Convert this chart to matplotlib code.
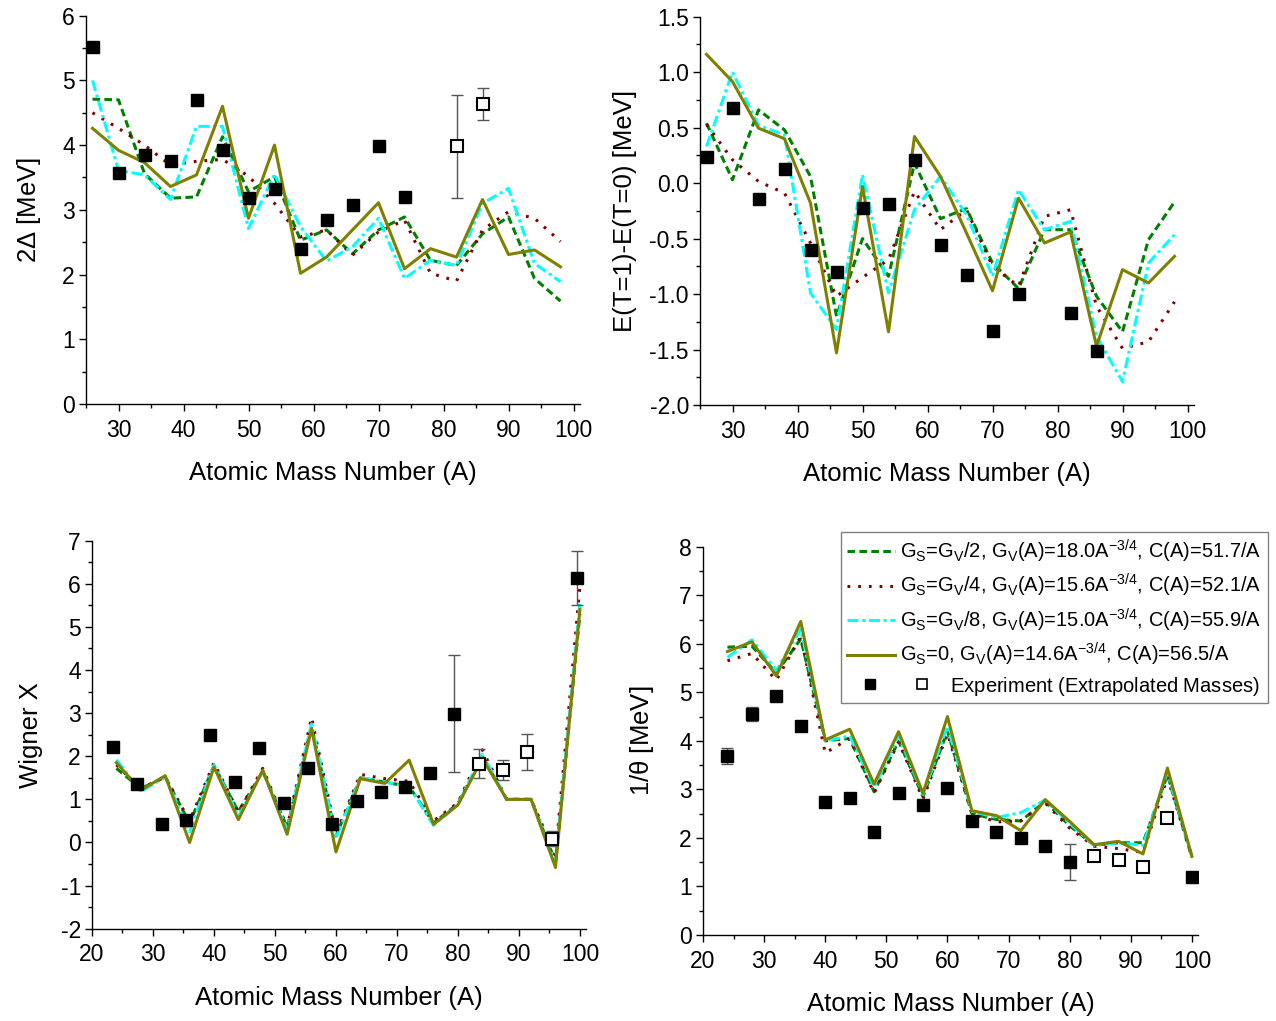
import matplotlib
matplotlib.use("Agg")
import matplotlib.pyplot as plt
import numpy as np
from matplotlib.lines import Line2D
from matplotlib.legend_handler import HandlerBase
from matplotlib.ticker import MultipleLocator, FormatStrFormatter

plt.rcParams['font.family'] = 'Liberation Sans'
plt.rcParams['mathtext.fontset'] = 'custom'
plt.rcParams['mathtext.rm'] = 'Liberation Sans'
plt.rcParams['mathtext.default'] = 'regular'
plt.rcParams['axes.unicode_minus'] = False

# ---- data ----
# top panels: A = 26 ... 98
A_top = np.arange(26, 99, 4)
# bottom panels: A = 24 ... 100
A_bot = np.arange(24, 101, 4)

# 2 Delta [MeV]
gap_half = [4.71, 4.70, 3.56, 3.18, 3.20, 4.13, 3.28, 3.51, 2.53, 2.69, 2.32, 2.69, 2.89, 2.22, 2.14, 2.63, 2.89, 1.94, 1.59]
gap_quarter = [4.50, 4.26, 4.00, 3.69, 3.75, 3.78, 3.52, 3.10, 2.58, 2.69, 2.30, 2.66, 2.84, 2.02, 1.90, 2.69, 2.97, 2.87, 2.51]
gap_eighth = [5.00, 3.61, 3.54, 3.16, 4.29, 4.29, 2.71, 3.55, 2.74, 2.21, 2.43, 2.87, 1.94, 2.22, 2.14, 3.10, 3.33, 2.17, 1.89]
gap_zero = [4.26, 3.92, 3.73, 3.36, 3.54, 4.60, 2.87, 4.00, 2.02, 2.27, 2.69, 3.11, 2.09, 2.40, 2.27, 3.16, 2.31, 2.38, 2.12]
gap_exp_A = [26, 30, 34, 38, 42, 46, 50, 54, 58, 62, 66, 70, 74]
gap_exp = [5.52, 3.57, 3.85, 3.75, 4.70, 3.92, 3.18, 3.32, 2.39, 2.84, 3.08, 3.99, 3.20]
gap_extr_A = [82, 86]
gap_extr = [3.98, 4.64]
gap_extr_err = [0.79, 0.25]

# E(T=1)-E(T=0) [MeV]
et_half = [0.54, 0.03, 0.66, 0.48, 0.06, -1.20, -0.50, -0.84, 0.18, -0.32, -0.23, -0.72, -0.95, -0.42, -0.42, -1.02, -1.34, -0.51, -0.17]
et_quarter = [0.53, 0.21, 0.015, -0.09, -0.54, -1.02, -0.85, -0.69, -0.075, -0.42, -0.24, -0.75, -0.93, -0.30, -0.24, -1.11, -1.49, -1.43, -1.07]
et_eighth = [0.33, 1.00, 0.52, 0.435, -0.99, -1.32, 0.075, -0.99, -0.24, 0.06, -0.285, -0.84, -0.06, -0.42, -0.345, -1.38, -1.79, -0.72, -0.465]
et_zero = [1.16, 0.915, 0.495, 0.40, -0.18, -1.53, -0.03, -1.34, 0.42, 0.06, -0.45, -0.97, -0.135, -0.54, -0.44, -1.47, -0.78, -0.90, -0.66]
et_exp_A = [26, 30, 34, 38, 42, 46, 50, 54, 58, 62, 66, 70, 74, 82, 86]
et_exp = [0.237, 0.68, -0.14, 0.13, -0.60, -0.80, -0.22, -0.19, 0.21, -0.56, -0.83, -1.33, -1.00, -1.17, -1.51]

# Wigner X
wx_half = [1.72, 1.25, 1.52, 0.45, 1.78, 0.72, 1.65, 0.35, 2.70, 0.15, 1.50, 1.40, 1.30, 0.45, 0.90, 2.00, 1.00, 1.00, -0.45, 5.30]
wx_quarter = [1.80, 1.25, 1.52, 0.50, 1.85, 0.70, 1.72, 0.35, 2.90, 0.20, 1.58, 1.48, 1.42, 0.50, 0.92, 2.15, 1.00, 1.00, -0.30, 5.95]
wx_eighth = [1.92, 1.18, 1.52, 0.25, 1.80, 0.60, 1.65, 0.30, 2.75, 0.10, 1.50, 1.40, 1.30, 0.40, 0.88, 2.05, 1.00, 1.00, -0.50, 5.55]
wx_zero = [1.85, 1.21, 1.55, 0.00, 1.75, 0.53, 1.68, 0.19, 2.64, -0.22, 1.48, 1.37, 1.91, 0.42, 0.87, 1.95, 1.00, 1.00, -0.58, 5.40]
wx_exp_A = [23.4, 27.4, 31.4, 35.4, 39.4, 43.4, 47.4, 51.4, 55.4, 59.4, 63.4, 67.4, 71.4, 75.4, 79.4, 99.5]
wx_exp = [2.21, 1.35, 0.425, 0.52, 2.49, 1.41, 2.19, 0.92, 1.72, 0.425, 0.96, 1.17, 1.29, 1.62, 2.99, 6.14]
wx_exp_err = [0.06, 0, 0, 0, 0, 0, 0, 0, 0, 0, 0, 0, 0, 0, 1.35, 0.62]
wx_extr_A = [83.4, 87.4, 91.4, 95.4]
wx_extr = [1.83, 1.68, 2.09, 0.09]
wx_extr_err = [0.33, 0.24, 0.42, 0.18]

# 1/theta [MeV]
th_half = [5.93, 5.95, 5.40, 6.10, 4.00, 4.05, 2.95, 4.00, 2.85, 4.20, 2.50, 2.38, 2.35, 2.75, 2.25, 1.85, 1.90, 1.90, 3.30, 1.60]
th_quarter = [5.65, 5.80, 5.25, 6.15, 3.75, 4.05, 2.92, 3.98, 2.80, 4.15, 2.50, 2.33, 2.35, 2.72, 2.20, 1.83, 1.78, 1.70, 3.25, 1.60]
th_eighth = [5.72, 6.08, 5.45, 6.30, 4.00, 4.10, 3.05, 4.10, 2.90, 4.30, 2.55, 2.42, 2.52, 2.78, 2.30, 1.85, 1.90, 1.85, 3.35, 1.62]
th_zero = [5.84, 6.04, 5.34, 6.46, 4.02, 4.24, 3.11, 4.19, 2.92, 4.50, 2.56, 2.46, 2.15, 2.79, 2.34, 1.86, 1.93, 1.67, 3.44, 1.62]
th_exp_A = [24, 28, 32, 36, 40, 44, 48, 52, 56, 60, 64, 68, 72, 76, 80, 100]
th_exp = [3.69, 4.55, 4.93, 4.30, 2.73, 2.82, 2.13, 2.92, 2.67, 3.02, 2.34, 2.12, 2.00, 1.83, 1.50, 1.20]
th_exp_err = [0.16, 0.14, 0.05, 0.10, 0, 0, 0, 0, 0, 0, 0, 0, 0, 0, 0.37, 0]
th_extr_A = [84, 88, 92, 96]
th_extr = [1.63, 1.55, 1.40, 2.41]

labels = [r'G$_S$=G$_V$/2, G$_V$(A)=18.0A$^{-3/4}$, C(A)=51.7/A',
          r'G$_S$=G$_V$/4, G$_V$(A)=15.6A$^{-3/4}$, C(A)=52.1/A',
          r'G$_S$=G$_V$/8, G$_V$(A)=15.0A$^{-3/4}$, C(A)=55.9/A',
          r'G$_S$=0, G$_V$(A)=14.6A$^{-3/4}$, C(A)=56.5/A']

styles = [dict(color='#008000', ls=(0, (2.5, 1.4))),
          dict(color='#800000', ls=(0, (0.9, 2.6))),
          dict(color='#00FFFF', ls=(0, (3.6, 1.2, 1.0, 1.2))),
          dict(color='#808000', ls='-')]

W, H = 1276, 1021
fig = plt.figure(figsize=(W / 100, H / 100), dpi=100)


def make_axes(l, r, t, b):
    return fig.add_axes([l / W, 1 - b / H, (r - l) / W, (b - t) / H])


def style_axes(ax, xlim, ylim, ymaj, ymin, xmaj, fmt, ylabel, ylab_x):
    ax.set_xlim(*xlim)
    ax.set_ylim(*ylim)
    ax.xaxis.set_major_locator(MultipleLocator(xmaj))
    ax.xaxis.set_minor_locator(MultipleLocator(5))
    ax.yaxis.set_major_locator(MultipleLocator(ymaj))
    ax.yaxis.set_minor_locator(MultipleLocator(ymin))
    ax.yaxis.set_major_formatter(FormatStrFormatter(fmt))
    for s in ['top', 'right']:
        ax.spines[s].set_visible(False)
    for s in ['left', 'bottom']:
        ax.spines[s].set_linewidth(1.0)
    ax.tick_params(which='major', direction='out', length=5, width=1.0, labelsize=16.5, pad=3)
    ax.tick_params(axis='x', which='major', pad=5.5)
    ax.tick_params(which='minor', direction='out', length=3, width=1.0)
    ax.set_xlabel('Atomic Mass Number (A)', fontsize=18.5)
    ax.xaxis.set_label_coords(0.5, -0.147)
    ax.set_ylabel(ylabel, fontsize=18.5)
    ax.yaxis.set_label_coords(ylab_x, 0.5)
    ax.patch.set_alpha(0)


def draw_models(ax, A, series):
    for vals, st in zip(series, styles):
        ax.plot(A, vals, lw=2.2, color=st['color'], ls=st['ls'])


def draw_exp(ax, A, vals, err=None, filled=True):
    if err is not None:
        ax.errorbar(A, vals, yerr=err, fmt='none', ecolor='#555555', elinewidth=1.0,
                    capsize=4, capthick=1.0, zorder=4)
    if filled:
        ax.plot(A, vals, 's', ms=9, color='black', zorder=5)
    else:
        ax.plot(A, vals, 's', ms=8.5, mfc='white', mec='black', mew=1.5, zorder=5)


# top-left: pairing gap
ax1 = make_axes(86, 580, 15.7, 404)
draw_models(ax1, A_top, [gap_half, gap_quarter, gap_eighth, gap_zero])
draw_exp(ax1, gap_exp_A, gap_exp)
draw_exp(ax1, gap_extr_A, gap_extr, gap_extr_err, filled=False)
style_axes(ax1, (25, 101), (0, 6), 1, 0.5, 10, '%d', r'2$\Delta$ [MeV]', -0.087)

# top-right: E(T=1)-E(T=0)
ax2 = make_axes(700, 1194, 16.7, 405)
draw_models(ax2, A_top, [et_half, et_quarter, et_eighth, et_zero])
draw_exp(ax2, et_exp_A, et_exp)
style_axes(ax2, (25, 101), (-2.0, 1.5), 0.5, 0.25, 10, '%.1f', 'E(T=1)-E(T=0) [MeV]', -0.1285)

# bottom-left: Wigner X
ax3 = make_axes(92, 586, 540.7, 928.7)
draw_models(ax3, A_bot, [wx_half, wx_quarter, wx_eighth, wx_zero])
draw_exp(ax3, wx_exp_A, wx_exp, wx_exp_err)
draw_exp(ax3, wx_extr_A, wx_extr, wx_extr_err, filled=False)
style_axes(ax3, (20, 101), (-2, 7), 1, 0.5, 10, '%d', 'Wigner X', -0.099)

# bottom-right: 1/theta
ax4 = make_axes(703, 1198, 546.7, 935)
draw_models(ax4, A_bot, [th_half, th_quarter, th_eighth, th_zero])
draw_exp(ax4, th_exp_A, th_exp, th_exp_err)
draw_exp(ax4, th_extr_A, th_extr, filled=False)
style_axes(ax4, (20, 101), (0, 8), 1, 0.5, 10, '%d', r'1/$\theta$ [MeV]', -0.095)


class ExpHandler(HandlerBase):
    # filled and open square side by side, the open one sits over the label's leading spaces
    def create_artists(self, legend, orig_handle, xdescent, ydescent, width, height, fontsize, trans):
        y = height / 2 - ydescent
        a = Line2D([0.48 * width - xdescent], [y], marker='s', ms=7.5, ls='none', color='black', transform=trans)
        b = Line2D([1.56 * width - xdescent], [y], marker='s', ms=7.5, ls='none', mfc='white',
                   mec='black', mew=1.2, transform=trans)
        return [a, b]


handles = [Line2D([], [], lw=2.2, color=st['color'], ls=st['ls']) for st in styles]
exp_proxy = Line2D([], [])
leg = ax4.legend(handles + [exp_proxy], labels + [r'         Experiment (Extrapolated Masses)$^{\ }_{\ }$'],
                 handler_map={exp_proxy: ExpHandler()},
                 loc='upper right', bbox_to_anchor=(1267.7 / W, 1 - 531.7 / H),
                 bbox_transform=fig.transFigure, borderaxespad=0, fontsize=14.5,
                 handlelength=2.4, handletextpad=0.25, borderpad=0.3, labelspacing=0.36,
                 fancybox=False, framealpha=1, edgecolor='#808080')
leg.get_frame().set_linewidth(1.0)

plt.savefig('out.png', dpi=100)
